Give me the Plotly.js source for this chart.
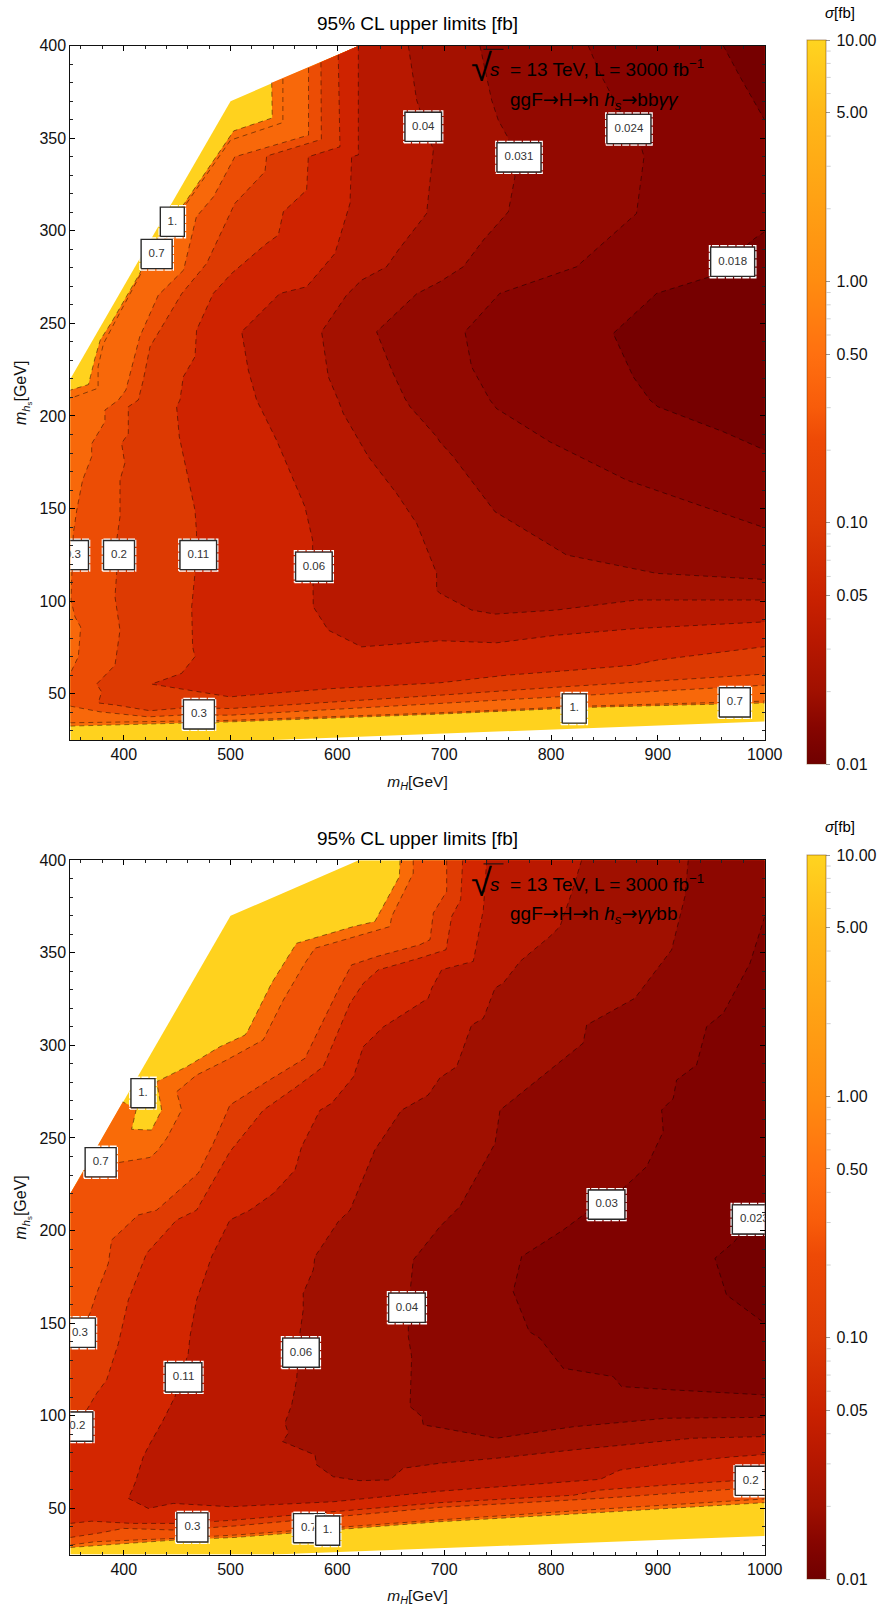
<!DOCTYPE html>
<html><head><meta charset="utf-8">
<script src="https://cdn.plot.ly/plotly-3.0.1.min.js"></script>
<style>html,body{margin:0;padding:0;background:#fff}</style>
</head><body><div id="chart" style="width:878px;height:1610px"></div>
<script>
// ---------- data (null = pen up along frame / domain edge) ----------
const domainX=[350,500,620,1000,1000,540,350];
const domainY=[220,370,400,400,35,25,25];

// upper panel contours
const top10X=[538.5,539,503,481,457,425,415,389,378,373,367,350,null,350,500,696,833,1000,null,1000,null,620];
const top10Y=[380,361,354,335.5,315,291,277,251,241,231,217,214,null,32.5,34.8,39,42.6,45,null,400,null,400];
const top07X=[549,549,500,478,459,443,418,392,381,376,376,350,null,350,500,696,833,1000,null,1000,null,620];
const top07Y=[382,358.5,349,331,315,295,279,251,239,226.6,215,209.5,null,34.3,35.6,39.7,43.3,46,null,400,null,400];
const top03X=[573,573,504,484,468,456,432.4,415,402,395,382.4,382.4,370,370,361.5,356,352.8,350.6,354.4,359.7,357.5,350,null,350,378,423,456,500,696,811,1000,null,1000,null,620];
const top03Y=[388,351.7,340,318.4,307.6,278.8,265.3,242.8,214,208.6,203.2,196.9,185,178,165.4,149,136.6,100.6,91.5,86,70,61,null,43.3,40.2,37.5,38.5,38.4,44.7,48.3,54.6,null,400,null,400];
const top02X=[584.6,585,533.8,532.2,504,477.6,454.2,434,424.6,418.3,413.6,404.3,404.3,398,401,396.5,396.5,393.4,393.4,391.8,396.5,391.8,374.6,379.3,376.2,393.4,424.6,459,500,696,811,958,1000,null,1000,null,620];
const top02Y=[391,349.4,340.4,332,314.8,282.4,266,246.4,237.4,219.4,208.6,205,190.6,185.2,174.4,165.4,145.6,133,115,102.4,84.3,65.4,55.2,51,45,43.8,40.8,42.5,42,49.2,53.7,59,60.6,null,400,null,400];
const top011X=[600.8,602.4,572.8,571.2,549.4,544.7,533.8,501,483.8,468.2,466.7,455.8,452.6,449.5,452,458.9,466.7,468.2,466.7,463.6,464.5,466.7,454.2,426,471.4,499.4,533.8,596,696,758.4,820.8,877,898.8,1000,null,1000,null,620];
const top011Y=[395,345.4,340,322,310.3,297.7,293.2,277,266.2,246.4,232,221.2,208.6,205,188.8,170.8,149.2,136.6,115,97,75.3,70,61,55.2,51,48.3,50,52.8,55.9,60,62.7,65.4,68.1,75.4,null,400,null,400];
const top006X=[619.6,619.6,613.3,611.8,597.7,571.2,546.2,510.4,516.6,524.4,543,569.6,576.8,576.8,577.4,591.5,622.7,696,749,805.2,880,1000,null,1000];
const top006Y=[400,341,340,314.8,287.8,269.8,266.2,245.5,224.8,208.6,187,151,133,109.6,97,84.3,75.3,78.6,77.5,81.6,85.2,88.8,null,400];
const top004X=[666.4,674.2,689.8,683.5,657,646,622.7,608.6,585.2,591.5,600.8,605.5,629,655.4,674.2,692.9,692.9,696,725.6,747.5,805.2,880,1000,null,1000];
const top004Y=[400,370.6,343.6,309.4,289.6,280.6,273.4,265.3,245.5,221.2,208.6,201.4,178,158.2,142,115,106,104.2,95.2,93,95.2,100.6,100.6,null,400];
const top0031X=[733.4,744.4,750.6,760,766.2,760,736.6,717.8,696,674.2,636.7,650.8,663.2,668,692.9,696,708.5,724,747.5,814.6,898.8,1000,null,1000];
const top0031Y=[400,370.6,359.8,350,329.2,310.3,295,280.6,272.5,266,245.5,224.8,209.5,205,188.8,186,178,166.3,148.3,124.9,115,111.7,null,400];
const top0024X=[834.8,845.8,870.7,884.8,887,880,823.9,752,719.4,725.6,742.8,749,799,870.7,1000,null,1000];
const top0024Y=[400,385,358,344.5,340,309.4,280.6,266.2,245.5,226.6,208.6,204,186,165.4,139.6,null,400];
const top0018AX=[961.2,976.8,1000,null,1000];
const top0018AY=[400,383.3,359.8,null,400];
const top0018BX=[1000,990.8,948.7,898.8,858.2,876.9,892.6,900,961.2,1000];
const top0018BY=[299.5,296,275.2,266.2,244.6,221.2,208.6,205,191.5,181.6];

// lower panel contours
const bot10X=[658.6,658,635,615,580.6,561.8,551,538.4,527.5,516.6,513.5,490,458.9,430.8,435.5,426,407.4,412,399,null,350,null,350,448,504,696,846,1000,null,1000];
const bot10Y=[400,391.2,366.9,364.2,358.4,355.2,345.3,333.6,321,308.3,305.6,299.3,288.5,280.4,265.1,254.3,254.7,266,269.5,null,220,null,28.8,32.8,34.2,42.7,47.7,53,null,400];
const bot07X=[671,671,650.8,649.2,579,569.6,549.4,530.6,496.3,468.2,449.5,454.2,440.2,430.8,424.6,394.9,366,null,350,null,350,373,448,504,696,846,1000,null,1000];
const bot07Y=[400,393,369.6,364.2,352.5,344.4,324.5,303,292.1,284,275,265.1,249.8,242.6,239.5,236.7,235,null,220,null,30.1,31.9,33.7,35.5,43.7,49.5,55,null,400];
const bot03X=[702.3,702.3,689.8,686.7,677.3,636.7,613.3,599.3,569.6,533.8,499.4,483.8,469.8,430.8,413.6,388.7,385.6,374.6,368.4,359,350,null,350,379.3,399.6,448,504,696,846,972,1000,null,1000];
const bot03Y=[400,383.2,371.5,357.1,354.4,348,343.5,328.2,293,280.4,267.8,247,231,211,208.4,194.9,182.3,166,155.3,144.5,135.5,null,34.2,36.8,39.1,38.2,40.4,50.5,55.3,60.7,61.5,null,400];
const bot02X=[717.3,715.4,707,701.7,677.3,638.3,624.2,611.8,586.8,561.8,530.6,499.4,468.2,449.5,421.4,412,404.3,395,384,374.6,365.3,350,null,350,370,407.4,448,480.7,504,696,821,846,908,970.6,1000,null,1000];
const bot02Y=[400,378.7,369.7,351.7,347.2,340.8,333.5,322.7,288.5,277.7,265,242.6,211,205.7,187.7,173.3,162.5,139,119.3,112,103,94,null,41.8,43,41.8,41.8,42.7,43.6,53,57,59.8,62.5,64.8,66,null,400];
const bot011X=[739.8,736.6,727.2,697.7,688.4,685,643,624.2,615,594.6,583.7,566.5,560.3,540,518,499.4,482.3,471.4,468.2,462,460.4,448,437,423,418.3,410.5,404.3,423,446.4,499.4,596.2,696,846,864.5,898.6,939.4,970.6,1000,null,1000];
const bot011Y=[400,373.3,345.4,340.9,331,325.5,310,299.3,283,268.7,265,245.3,232.7,220,211,205.7,185.9,167.9,162.5,142.7,133.7,110.3,97.6,83.2,77.8,63.4,55.3,49.9,52.6,50.8,53.5,59.2,65.6,70.6,73.3,76,77.8,79,null,400];
const bot006X=[828.6,819.2,808.3,799,771,755.3,747.6,736.6,725.6,711.6,696,685,660,635,611.8,600.8,579,577.4,568,568,564.9,561.8,557.2,550.9,554,548.7,579,580.6,596.2,621.1,649.2,661.7,696,749,820.8,870.7,933,1000,null,1000];
const bot006Y=[400,382.2,364.2,358.9,345.4,333.7,331,314.6,311,288.5,282.5,273.2,265,243.5,211,204.8,185.9,178.7,166.1,157.1,144.5,119.3,105.8,96,90.5,86,78.8,73.4,67,64.9,65.3,71.6,74.3,77,81.5,84.2,87.8,88.7,null,400];
const bot004X=[928.4,925.3,912.8,878.5,833.3,830,752.2,747.5,714.7,696,671,666.4,666.4,669.5,668,679,680.4,696,749,820.8,908.2,1000,null,1000];
const bot004Y=[400,380.4,351.6,325.5,311,301.2,265,247,213,202.1,184.1,157.1,142.7,131.9,104.9,99.5,95,93.5,87.8,94,98.6,99.1,null,400];
const bot003X=[1000,986.2,961.2,945.6,936.2,917.5,914.4,903.5,905,889.4,869.2,830.2,811.4,772.4,764.6,779.6,789.6,811.4,858.2,866,914.4,1000];
const bot003Y=[369.6,344.4,317.4,310.1,289.4,281.3,271.4,265.1,253.4,234.5,223.7,208.4,200.3,185.9,167,145.4,141.8,125.6,121.1,115.7,113.9,111.2];
const bot0023X=[1000,971.6,953.4,964.3,1000];
const bot0023Y=[215,194,185,165.2,149.9];

const topFills=['#f96b08','#f8680a','#ec4d05','#dd3a02','#cf2300','#b81800','#a41100','#930900','#880400','#760000','#760000'];
const botFills=['#f96b08','#f05206','#e03c03','#d32600','#ba1800','#a01000','#8d0700','#800200','#750000'];

const topLabelText=['1.','0.7','0.04','0.031','0.024','0.018','0.3','0.2','0.11','0.06','0.3','1.','0.7'];
const topLabelX=[445.5,430.8,680.4,770,872.9,970,352.5,395.6,469.8,578,470.4,821.7,972];
const topLabelY=[304.9,287.5,356.2,339.7,355,283.3,124.9,124.9,124.9,118.6,38.8,42,45.3];
const botLabelText=['1.','0.7','0.03','0.023','0.04','0.06','0.11','0.3','0.2','0.3','0.7','1.','0.2'];
const botLabelX=[418,378.4,852,990.3,665.1,565.9,456,359,356.6,464.3,573.4,590.9,986.9];
const botLabelY=[274.2,236.9,214,206,158.3,134,120.7,144.8,94.1,39.6,39.2,37.9,64.8];

const barMajorTicks=[10,5,1,0.5,0.1,0.05,0.01];
const barMinorTicks=[9,8,7,6,4,3,2,0.9,0.8,0.7,0.6,0.4,0.3,0.2,0.09,0.08,0.07,0.06,0.04,0.03,0.02];
const barColors=[[0,'#700000'],[0.05,'#860500'],[0.1,'#a01000'],[0.17,'#b81800'],[0.233,'#ca2200'],[0.333,'#dd3a04'],[0.448,'#ee4a06'],[0.493,'#f85c0a'],[0.566,'#ff7010'],[0.667,'#ff8c10'],[0.9,'#ffb818'],[1,'#ffd420']];

// ---------- layout geometry ----------
const W=878,H=1610;
const PX=p=>p/W, PY=p=>1-p/H;
const FONT='"Liberation Sans", Arial, sans-serif';
const traces=[];

function level(x,y,color,xa,ya){
  const kx=[],ky=[];
  x.forEach((v,i)=>{if(v!==null){kx.push(v);ky.push(y[i]);}});
  traces.push({type:'scatter',mode:'lines',x:kx,y:ky,fill:'toself',fillcolor:color,line:{width:0},hoverinfo:'skip',xaxis:xa,yaxis:ya,showlegend:false});
  traces.push({type:'scatter',mode:'lines',x:x,y:y,line:{color:'rgba(0,0,0,0.45)',width:1,dash:'5px,4px'},hoverinfo:'skip',xaxis:xa,yaxis:ya,showlegend:false});
}
function labels(txt,lx,ly,xa,ya){
  const hwPx={2:12,3:15.5,4:18.3,5:22};
  txt.forEach((t,i)=>{
    const hw=hwPx[t.length]/1.0683, hh=14.6/1.851;
    const mx=1.1/1.0683, my=1.3/1.851;
    const rx=[lx[i]-hw,lx[i]+hw,lx[i]+hw,lx[i]-hw,lx[i]-hw], ry=[ly[i]-hh,ly[i]-hh,ly[i]+hh,ly[i]+hh,ly[i]-hh];
    const ox=[lx[i]-hw-mx,lx[i]+hw+mx,lx[i]+hw+mx,lx[i]-hw-mx,lx[i]-hw-mx], oy=[ly[i]-hh-my,ly[i]-hh-my,ly[i]+hh+my,ly[i]+hh+my,ly[i]-hh-my];
    traces.push({type:'scatter',mode:'lines',x:ox,y:oy,line:{color:'#fff',width:1.5,dash:'7px,1.2px'},hoverinfo:'skip',xaxis:xa,yaxis:ya,showlegend:false});
    traces.push({type:'scatter',mode:'lines',x:rx,y:ry,fill:'toself',fillcolor:'#fff',line:{color:'#2a2a2a',width:1.4},hoverinfo:'skip',xaxis:xa,yaxis:ya,showlegend:false});
    traces.push({type:'scatter',mode:'text',x:[lx[i]],y:[ly[i]],text:[t],textposition:'middle center',cliponaxis:true,textfont:{family:FONT,size:11.5,color:'#333'},hoverinfo:'skip',xaxis:xa,yaxis:ya,showlegend:false});
  });
}
function panel(levels,fills,xa,ya){
  traces.push({type:'scatter',mode:'lines',x:domainX,y:domainY,fill:'toself',fillcolor:'#ffd21e',line:{width:0},hoverinfo:'skip',xaxis:xa,yaxis:ya,showlegend:false});
  levels.forEach((l,i)=>level(l[0],l[1],fills[i],xa,ya));
}
const shapes=[];
function colorbarTrace(xa,ya,topPx,botPx){
  traces.push({type:'heatmap',x:[0,1],y:[0,1],z:[[-2,1],[-2,1]],zmin:-2,zmax:1,colorscale:barColors,hoverinfo:'skip',xaxis:xa,yaxis:ya,
    colorbar:{x:PX(807.3),xanchor:'left',xpad:0,ypad:0,y:PY((topPx+botPx)/2),yanchor:'middle',lenmode:'pixels',len:botPx-topPx,thicknessmode:'pixels',thickness:19.4,
      tickmode:'array',tickvals:barMajorTicks.map(v=>Math.log10(v)),ticktext:barMajorTicks.map(v=>'\u2009'+v.toFixed(2)),
      ticks:'outside',ticklen:4,tickwidth:1,tickcolor:'#999',tickfont:{family:FONT,size:16,color:'#111'},outlinecolor:'rgba(90,40,0,0.45)',outlinewidth:1,borderwidth:0}});
  barMinorTicks.forEach(v=>{
    const yp=topPx+(1-Math.log10(v))/3*(botPx-topPx);
    shapes.push({type:'line',xref:'paper',yref:'paper',x0:PX(826.7),x1:PX(830.7),y0:PY(yp),y1:PY(yp),line:{color:'#d0d0d0',width:1}});
  });
}

panel([[top10X,top10Y],[top07X,top07Y],[top03X,top03Y],[top02X,top02Y],[top011X,top011Y],[top006X,top006Y],[top004X,top004Y],[top0031X,top0031Y],[top0024X,top0024Y],[top0018AX,top0018AY],[top0018BX,top0018BY]],topFills,'x','y');
labels(topLabelText,topLabelX,topLabelY,'x','y');
colorbarTrace('x','y',40,764.3);
panel([[bot10X,bot10Y],[bot07X,bot07Y],[bot03X,bot03Y],[bot02X,bot02Y],[bot011X,bot011Y],[bot006X,bot006Y],[bot004X,bot004Y],[bot003X,bot003Y],[bot0023X,bot0023Y]],botFills,'x2','y2');
labels(botLabelText,botLabelX,botLabelY,'x2','y2');
colorbarTrace('x2','y2',855,1579);

function xAxis(anchor,dom){return {domain:dom,range:[350,1000],anchor:anchor,tick0:400,dtick:100,ticks:'inside',ticklen:5,tickwidth:1,tickcolor:'#000',mirror:'allticks',showline:true,linecolor:'#111',linewidth:1,showgrid:false,zeroline:false,
  minor:{dtick:20,tick0:400,ticks:'inside',ticklen:3,tickwidth:1,tickcolor:'#222',showgrid:false},tickfont:{family:FONT,size:16,color:'#111'},
  title:{text:'<i>m</i><sub><i>H</i></sub>[GeV]',font:{family:FONT,size:15.5,color:'#111'},standoff:13}};}
function yAxis(anchor,dom){return {domain:dom,range:[25,400],anchor:anchor,tick0:50,dtick:50,ticks:'inside',ticklen:5,tickwidth:1,tickcolor:'#000',mirror:'allticks',showline:true,linecolor:'#111',linewidth:1,showgrid:false,zeroline:false,
  minor:{dtick:10,tick0:50,ticks:'inside',ticklen:3,tickwidth:1,tickcolor:'#222',showgrid:false},tickfont:{family:FONT,size:16,color:'#111'},
  title:{text:'<i>m</i><sub><i>h</i><sub>s</sub></sub>[GeV]',font:{family:FONT,size:16,color:'#111'},standoff:8}};}

function txt(text,xpx,ypx,size,anchor){return {xref:'paper',yref:'paper',x:PX(xpx),y:PY(ypx),text:text,showarrow:false,xanchor:anchor||'left',yanchor:'middle',font:{family:FONT,size:size,color:'#000'}};}
const annotations=[];
const arrow='<span style="font-family:DejaVu Sans">→</span>';
[[0,'ggF'+arrow+'H'+arrow+'h <i>h<sub>s</sub></i>'+arrow+'bb<i>γγ</i>'],[814.6,'ggF'+arrow+'H'+arrow+'h <i>h<sub>s</sub></i>'+arrow+'<i>γγ</i>bb']].forEach(([dy,proc])=>{
  annotations.push(txt('95% CL upper limits [fb]',417.5,24+dy,19,'center'));
  annotations.push(txt('<i>σ</i>[fb]',839.5,12+dy,15,'center'));
  annotations.push(txt('√',469,68+dy,38,'left'));
  annotations.push(txt('<i>s</i>\u00A0\u00A0= 13 TeV, L = 3000 fb<sup>−1</sup>',488,68+dy,19,'left'));
  annotations.push(txt(proc,508,100+dy,19,'left'));
  shapes.push({type:'line',xref:'paper',yref:'paper',x0:PX(483.5),x1:PX(503.5),y0:PY(49.3+dy),y1:PY(49.3+dy),line:{color:'#111',width:1}});
});

const layout={width:W,height:H,margin:{l:0,r:0,t:0,b:0,autoexpand:false},paper_bgcolor:'#fff',plot_bgcolor:'#fff',showlegend:false,
  xaxis:xAxis('y',[PX(70.3),PX(764.7)]),yaxis:yAxis('x',[PY(740),PY(45.7)]),
  xaxis2:xAxis('y2',[PX(70.3),PX(764.7)]),yaxis2:yAxis('x2',[PY(1554.5),PY(860.3)]),
  annotations:annotations,shapes:shapes,font:{family:FONT}};
Plotly.newPlot('chart',traces,layout,{displayModeBar:false,staticPlot:true});
</script></body></html>
